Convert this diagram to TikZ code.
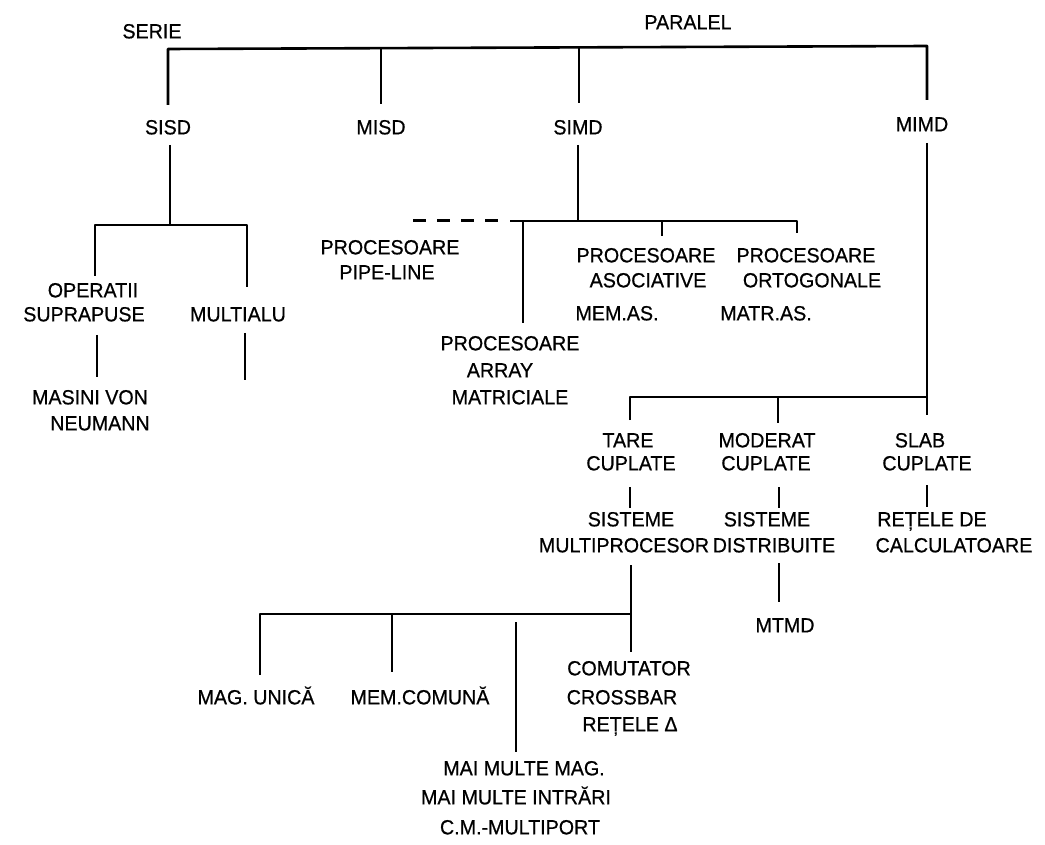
\documentclass[tikz,border=0pt]{standalone}
\usepackage{fontspec}
\setmainfont{Liberation Sans}[FakeStretch=0.96,FakeBold=0.6]
\begin{document}
\begin{tikzpicture}[x=1pt,y=-1pt,
  lbl/.style={inner sep=0pt,font=\fontsize{20.5pt}{24pt}\selectfont,text height=14.7pt,text depth=0pt},
  ln/.style={line width=2.6pt,line join=round},
  dashln/.style={line width=3pt,dash pattern=on 13pt off 11pt}]
\useasboundingbox (0,0) rectangle (1045,845);
\fill[white] (0,0) rectangle (1045,845);
% ---------- top level ----------
\node[lbl] (serie) at (152,31) {SERIE};
\node[lbl] (paralel) at (688,22) {PARALEL};
\node[lbl] (sisd) at (168,127) {SISD};
\node[lbl] (misd) at (381,127) {MISD};
\node[lbl] (simd) at (578,127) {SIMD};
\node[lbl] (mimd) at (922,124) {MIMD};
\coordinate (b1) at (168,49);
\coordinate (b2) at (381,48);
\coordinate (b3) at (579,47);
\coordinate (b4) at (927,46);
\coordinate (s1) at (168,105);
\coordinate (s2) at (381,104);
\coordinate (s3) at (579,103);
\coordinate (s4) at (927,100);
\draw[ln] (s1) -- (b1) -- (b4) -- (s4);
\draw[ln] (b2) -- (s2);
\draw[ln] (b3) -- (s3);
% ---------- SISD ----------
\node[lbl] (oper1) at (93,290) {OPERATII};
\node[lbl] (oper2) at (84,314) {SUPRAPUSE};
\node[lbl] (multialu) at (238,314) {MULTIALU};
\node[lbl] (masini1) at (90,397) {MASINI VON};
\node[lbl] (masini2) at (100,423) {NEUMANN};
\coordinate (sisdd) at (170,145);
\coordinate (sisdj) at (170,225);
\coordinate (sl) at (95,225);
\coordinate (sr) at (247,225);
\coordinate (sle) at (95,276);
\coordinate (sre) at (247,287);
\draw[ln] (sisdd) -- (sisdj);
\draw[ln] (sle) -- (sl) -- (sr) -- (sre);
\coordinate (op1) at (97,335);
\coordinate (op2) at (97,377);
\draw[ln] (op1) -- (op2);
\coordinate (ma1) at (245,333);
\coordinate (ma2) at (245,380);
\draw[ln] (ma1) -- (ma2);
% ---------- SIMD ----------
\coordinate (simdd) at (578,145);
\coordinate (simdj) at (578,221);
\draw[ln] (simdd) -- (simdj);
\coordinate (pl) at (413,221);
\coordinate (plr) at (506,221);
\coordinate (sb0) at (510,221);
\coordinate (sb1) at (523,221);
\coordinate (sb2) at (662,221);
\coordinate (sb3) at (797,221);
\coordinate (sb1e) at (523,323);
\coordinate (sb2e) at (662,236);
\coordinate (sb3e) at (797,233);
\draw[dashln] (pl) -- (plr);
\draw[ln] (sb0) -- (sb3) -- (sb3e);
\draw[ln] (sb1) -- (sb1e);
\draw[ln] (sb2) -- (sb2e);
\node[lbl] (pipe1) at (390,247) {PROCESOARE};
\node[lbl] (pipe2) at (387,272) {PIPE-LINE};
\node[lbl] (arr1) at (510,343) {PROCESOARE};
\node[lbl] (arr2) at (500,370) {ARRAY};
\node[lbl] (arr3) at (510,397) {MATRICIALE};
\node[lbl] (asoc1) at (646,255) {PROCESOARE};
\node[lbl] (asoc2) at (648,280) {ASOCIATIVE};
\node[lbl] (asoc3) at (617,313) {MEM.AS.};
\node[lbl] (orto1) at (806,255) {PROCESOARE};
\node[lbl] (orto2) at (812,280) {ORTOGONALE};
\node[lbl] (orto3) at (766,313) {MATR.AS.};
% ---------- MIMD ----------
\coordinate (mimdd) at (927,143);
\coordinate (mj) at (927,397);
\coordinate (mje) at (927,415);
\coordinate (ml) at (630,397);
\coordinate (mle) at (630,420);
\coordinate (mm) at (778,397);
\coordinate (mme) at (778,423);
\draw[ln] (mimdd) -- (mje);
\draw[ln] (mle) -- (ml) -- (mj);
\draw[ln] (mm) -- (mme);
\node[lbl] (tare1) at (628,440) {TARE};
\node[lbl] (tare2) at (631,463) {CUPLATE};
\node[lbl] (mod1) at (767,440) {MODERAT};
\node[lbl] (mod2) at (766,463) {CUPLATE};
\node[lbl] (slab1) at (920,440) {SLAB};
\node[lbl] (slab2) at (927,463) {CUPLATE};
\coordinate (t1a) at (630,487);
\coordinate (t1b) at (630,508);
\coordinate (t2a) at (779,487);
\coordinate (t2b) at (779,508);
\coordinate (t3a) at (927,485);
\coordinate (t3b) at (927,507);
\draw[ln] (t1a) -- (t1b);
\draw[ln] (t2a) -- (t2b);
\draw[ln] (t3a) -- (t3b);
\node[lbl] (sist1) at (631,519) {SISTEME};
\node[lbl] (sist2) at (624,545) {MULTIPROCESOR};
\node[lbl] (dist1) at (767,519) {SISTEME};
\node[lbl] (dist2) at (774,545) {DISTRIBUITE};
\node[lbl] (ret1) at (932,519) {REȚELE DE};
\node[lbl] (ret2) at (954,545) {CALCULATOARE};
\coordinate (d1) at (779,563);
\coordinate (d2) at (779,602);
\draw[ln] (d1) -- (d2);
\node[lbl] (mtmd) at (785,625) {MTMD};
% ---------- multiprocesor ----------
\coordinate (mp1) at (631,565);
\coordinate (mpj) at (631,614);
\coordinate (mp2) at (631,652);
\coordinate (q1) at (260,614);
\coordinate (q1e) at (260,675);
\coordinate (q2) at (392,614);
\coordinate (q2e) at (392,672);
\coordinate (q3) at (516,622);
\coordinate (q3e) at (516,752);
\draw[ln] (mp1) -- (mp2);
\draw[ln] (q1e) -- (q1) -- (mpj);
\draw[ln] (q2) -- (q2e);
\draw[ln] (q3) -- (q3e);
\node[lbl] (unica) at (256,697) {MAG. UNICĂ};
\node[lbl] (comuna) at (420,697) {MEM.COMUNĂ};
\node[lbl] (com1) at (629,668) {COMUTATOR};
\node[lbl] (com2) at (622,697) {CROSSBAR};
\node[lbl] (com3) at (630,724) {REȚELE Δ};
\node[lbl] (mm1) at (524,768) {MAI MULTE MAG.};
\node[lbl] (mm2) at (516,797) {MAI MULTE INTRĂRI};
\node[lbl] (mm3) at (520,827) {C.M.-MULTIPORT};
\end{tikzpicture}
\end{document}
